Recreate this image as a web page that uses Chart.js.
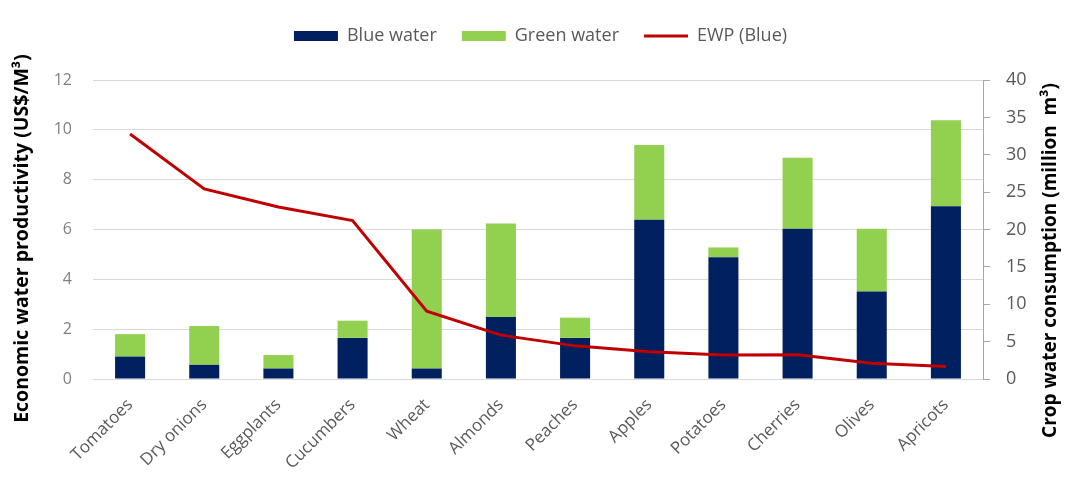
<!DOCTYPE html>
<html>
<head>
<meta charset="utf-8">
<title>Economic water productivity and crop water consumption</title>
<script src="https://cdn.jsdelivr.net/npm/chart.js@4/dist/chart.umd.min.js"></script>
<style>
  html, body { margin: 0; padding: 0; background: #ffffff; }
  canvas { display: block; }
</style>
</head>
<body>
<canvas id="chart" width="1081" height="483"></canvas>
<script>
// Crops, ordered by economic water productivity of blue water
const crops = ['Tomatoes', 'Dry onions', 'Eggplants', 'Cucumbers', 'Wheat', 'Almonds',
               'Peaches', 'Apples', 'Potatoes', 'Cherries', 'Olives', 'Apricots'];

// Crop water consumption, million m³
const blueWater  = [3.0, 1.9, 1.4, 5.5, 1.4, 8.3, 5.5, 21.3, 16.3, 20.1, 11.7, 23.1];
const greenWater = [3.0, 5.2, 1.8, 2.3, 18.6, 12.5, 2.7, 10.0, 1.3, 9.5, 8.4, 11.5];

// Economic water productivity of blue water, US$/m³
const ewpBlue = [9.83, 7.63, 6.9, 6.36, 2.72, 1.76, 1.33, 1.09, 0.96, 0.97, 0.63, 0.5];

// Axis ticks
const ewpTicks = [0, 2, 4, 6, 8, 10, 12];
const consumptionTicks = [0, 5, 10, 15, 20, 25, 30, 35, 40];

const leftTitle = 'Economic water productivity (US$/M³)';
const rightTitle = 'Crop water consumption (million  m³)';

const FONT = "'Open Sans', 'DejaVu Sans', sans-serif";

// Extra room between the legend row and the plot
const legendGap = {
  id: 'legendGap',
  beforeLayout(chart) {
    const lg = chart.legend;
    if (lg && !lg._gapWrapped) {
      const fit = lg.fit;
      lg.fit = function () { fit.call(this); this.height += 25; };
      lg._gapWrapped = true;
    }
  }
};

// Both axis titles, rotated to read bottom to top
const axisTitles = {
  id: 'axisTitles',
  afterDraw(chart) {
    const ctx = chart.ctx;
    const area = chart.chartArea;
    const mid = (area.top + area.bottom) / 2;
    const draw = (text, x, y, size) => {
      ctx.save();
      ctx.translate(x, y);
      ctx.rotate(-Math.PI / 2);
      ctx.font = 'bold ' + size + 'px ' + FONT;
      ctx.fillStyle = '#000000';
      ctx.textAlign = 'center';
      ctx.textBaseline = 'middle';
      ctx.fillText(text, 0, 0);
      ctx.restore();
    };
    draw(leftTitle, chart.scales.y.left + 22, mid + 9, 19.5);
    draw(rightTitle, chart.scales.y1.right - 30, mid + 31, 19);
  }
};

new Chart(document.getElementById('chart'), {
  data: {
    labels: crops,
    datasets: [
      {
        type: 'bar',
        label: 'Blue water',
        data: blueWater,
        backgroundColor: '#002060',
        yAxisID: 'y1',
        stack: 'water',
        order: 2,
        pointStyle: 'rect',
        barPercentage: 0.405,
        categoryPercentage: 1.0
      },
      {
        type: 'bar',
        label: 'Green water',
        data: greenWater,
        backgroundColor: '#92D050',
        yAxisID: 'y1',
        stack: 'water',
        order: 2,
        pointStyle: 'rect',
        barPercentage: 0.405,
        categoryPercentage: 1.0
      },
      {
        type: 'line',
        label: 'EWP (Blue)',
        data: ewpBlue,
        borderColor: '#C00000',
        backgroundColor: '#C00000',
        borderWidth: 3,
        pointRadius: 0,
        pointStyle: 'line',
        tension: 0,
        yAxisID: 'y',
        order: 1
      }
    ]
  },
  options: {
    responsive: false,
    animation: false,
    devicePixelRatio: 1,
    layout: { padding: { top: 2, left: 0, right: 0, bottom: 0 } },
    plugins: {
      legend: {
        position: 'top',
        labels: {
          usePointStyle: true,
          pointStyleWidth: 44,
          boxHeight: 10,
          padding: 25,
          color: '#595959',
          font: { family: FONT, size: 18 },
          sort: (a, b) => a.datasetIndex - b.datasetIndex
        }
      },
      tooltip: { enabled: false }
    },
    scales: {
      x: {
        grid: { display: false },
        border: { display: false },
        ticks: {
          color: '#595959',
          font: { family: FONT, size: 17 },
          maxRotation: 45,
          minRotation: 45,
          padding: 8,
          autoSkip: false
        },
        afterFit(s) { s.height = 104; }
      },
      y: {
        position: 'left',
        min: 0,
        max: 12,
        afterBuildTicks(s) { s.ticks = ewpTicks.map(v => ({ value: v })); },
        grid: { color: '#d9d9d9', lineWidth: 1, drawTicks: false },
        border: { display: false },
        ticks: {
          color: '#808080',
          font: { family: FONT, size: 16 },
          padding: 21
        },
        afterFit(s) { s.width = 93; }
      },
      y1: {
        position: 'right',
        min: 0,
        max: 40,
        afterBuildTicks(s) { s.ticks = consumptionTicks.map(v => ({ value: v })); },
        grid: { drawOnChartArea: false, drawTicks: true, tickLength: 7, color: '#a6a6a6' },
        border: { display: true, color: '#a6a6a6' },
        ticks: {
          color: '#595959',
          font: { family: FONT, size: 18 },
          padding: 16
        },
        afterFit(s) { s.width = 98; }
      }
    }
  },
  plugins: [legendGap, axisTitles]
});
</script>
</body>
</html>
